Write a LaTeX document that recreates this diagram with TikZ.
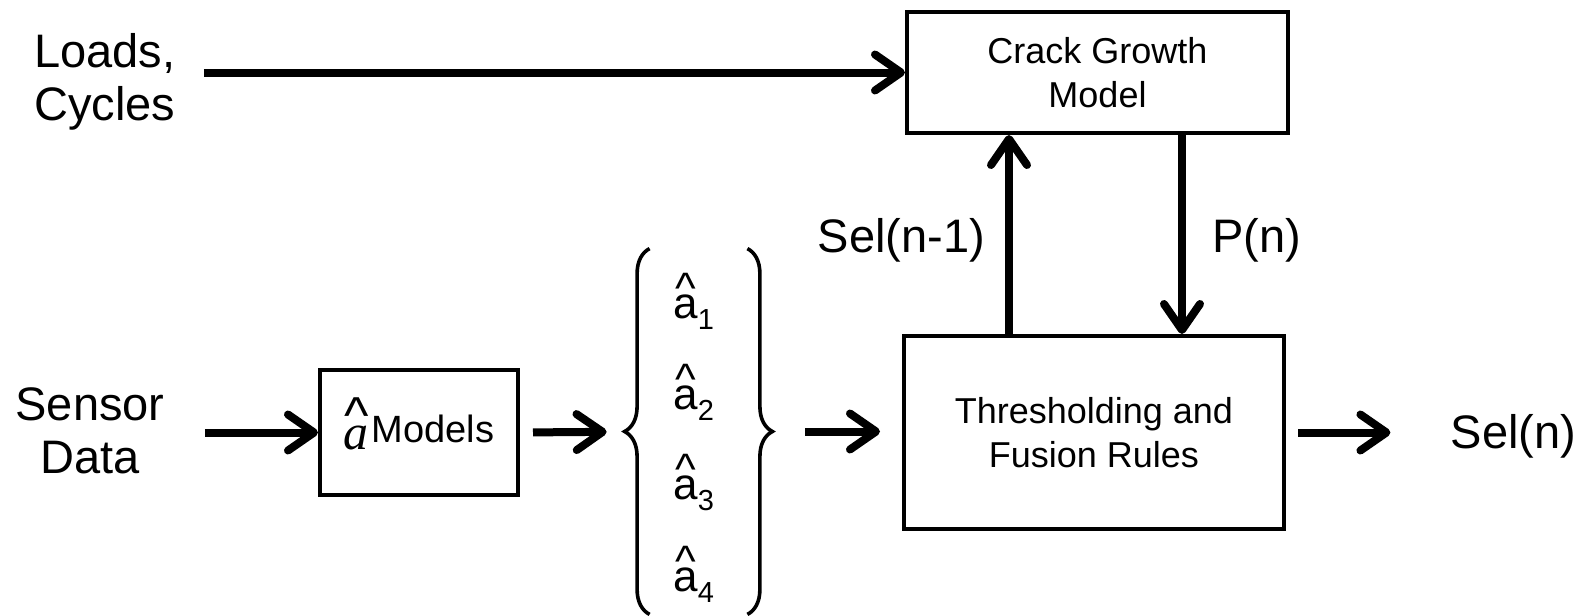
\documentclass[tikz,border=0pt]{standalone}
\usepackage{fontspec}
\setmainfont{Liberation Sans}
\newfontfamily\serifit{Liberation Serif}
\usetikzlibrary{arrows.meta,decorations.pathreplacing,positioning}
\tikzstyle{block}=[draw,line width=2pt,inner sep=0pt,font=\fontsize{18}{22}\selectfont,align=center]
\tikzstyle{flow}=[draw,line width=4pt,-{Straight Barb[length=13pt,width=18pt,round]}]
\tikzstyle{bigtext}=[inner sep=0pt,font=\fontsize{23.5}{26.5}\selectfont,align=center]
\tikzstyle{est}=[inner sep=0pt,font=\fontsize{22}{22}\selectfont]
\tikzstyle{brace}=[draw,line width=1.8pt,decorate,decoration={brace,amplitude=12.5pt}]

\newcommand{\ahat}[1]{\leavevmode\ooalign{a\cr\hidewidth\raisebox{7.5pt}{\fontsize{22}{22}\selectfont\textasciicircum}\hidewidth\cr}\raisebox{-5.5pt}{\fontsize{14.5}{14.5}\selectfont #1}}
\newcommand{\ahatit}{\leavevmode\raisebox{-3.5pt}{\ooalign{\fontsize{25}{25}\serifit\itshape a\cr\hidewidth\raisebox{8pt}{\fontsize{26}{26}\selectfont\textasciicircum}\hidewidth\cr}}}

\begin{document}
\begin{tikzpicture}[x=0.5pt,y=-0.5pt]
\useasboundingbox (0,0) rectangle (1587,616);

% First the boxes
\node[block,minimum width=190.5pt,minimum height=60.5pt] (crack) at (1097.5,72.5) {Crack Growth\\Model};
\node[block,minimum width=190pt,minimum height=96.5pt] (thresh) at (1094,432.5) {Thresholding and\\Fusion Rules};
\node[block,minimum width=99pt,minimum height=62.5pt,font=\fontsize{19}{22}\selectfont] (models) at (419,432.5) {\ahatit\hspace{1.5pt}Models};

% Outer labels
\node[bigtext] (loads) at (105,81.5) {Loads,\\Cycles};
\node[bigtext] (sensor) at (90,431) {Sensor\\Data};
\node[bigtext,anchor=base] (selout) at (1513.5,448) {Sel(n)};
\node[bigtext,anchor=base] (selprev) at (901.5,252) {Sel(n-1)};
\node[bigtext,anchor=base] (pn) at (1256.5,252) {P(n)};

% Set of estimates between braces
\node[inner sep=0pt,minimum width=48.5pt,minimum height=182.5pt] (set) at (698.5,431.5) {};
\foreach \i/\y in {1/318,2/409,3/499,4/591}
\node[est,anchor=base west] (a\i) at (673,\y) {\ahat{\i}};
\draw[brace] (set.south west) -- (set.north west);
\draw[brace] (set.north east) -- (set.south east);

% Connect with arrows
\draw[flow,shorten <=14pt] (loads.east |- crack.west) -- (crack.west);
\draw[flow,shorten <=20pt] (sensor.east |- models.west) -- (models.west);
\draw[flow,shorten <=6.5pt,shorten >=21.5pt] (models.east) -- (set.west);
\draw[flow,shorten <=29pt,shorten >=11pt] (set.east) -- (set.east -| thresh.west);
\draw[flow,shorten <=6pt,shorten >=30pt] (thresh.east) -- (thresh.east -| selout.west);
\draw[flow] ([xshift=53.5pt]thresh.north west) -- ([xshift=53.5pt]thresh.north west |- crack.south);
\draw[flow] ([xshift=138.5pt]crack.south west) -- ([xshift=138.5pt]crack.south west |- thresh.north);

\end{tikzpicture}
\end{document}
